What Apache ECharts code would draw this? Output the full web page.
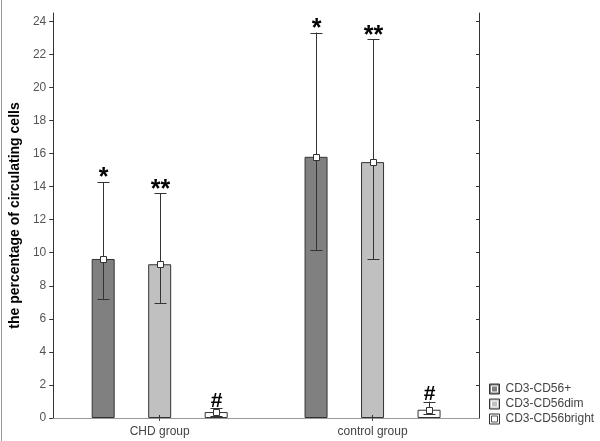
<!DOCTYPE html>
<html>
<head>
<meta charset="utf-8">
<script src="https://cdn.jsdelivr.net/npm/echarts@6/dist/echarts.min.js"></script>
<style>html,body{margin:0;padding:0;background:#fff;}#c{width:600px;height:441px;}</style>
</head>
<body>
<div id="c"></div>
<script>
const categories = ['CHD group', 'control group'];
const seriesNames = ['CD3-CD56+', 'CD3-CD56dim', 'CD3-CD56bright'];
const meanPlus = [9.62, 15.8];
const meanDim = [9.3, 15.48];
const meanBright = [0.36, 0.5];
const upperPlus = [14.27, 23.32];
const lowerPlus = [7.19, 10.17];
const upperDim = [13.6, 22.9];
const lowerDim = [6.96, 9.61];
const upperBright = [0.59, 0.99];
const lowerBright = [0.12, 0.22];
const marksPlus = ['*', '*'];
const marksDim = ['**', '**'];
const marksBright = ['#', '#'];
const yTicks = [0, 2, 4, 6, 8, 10, 12, 14, 16, 18, 20, 22, 24];

const means = [meanPlus, meanDim, meanBright];
const uppers = [upperPlus, upperDim, upperBright];
const lowers = [lowerPlus, lowerDim, lowerBright];
const marks = [marksPlus, marksDim, marksBright];
const colors = ['#808080', '#c0c0c0', '#ffffff'];

const BAR_W = 23;
const BAR_STEP = 56.5;
const FONT = '"Liberation Sans", Arial, sans-serif';

const barSeries = seriesNames.map((name, k) => ({
  name: name,
  type: 'bar',
  data: means[k],
  barWidth: BAR_W,
  barGap: ((BAR_STEP - BAR_W) / BAR_W * 100) + '%',
  itemStyle: { color: colors[k], borderColor: '#333', borderWidth: 1 },
  z: 2
}));

const errSeries = seriesNames.map((name, k) => ({
  name: name,
  type: 'custom',
  z: 5,
  data: categories.map((c, i) => [i, means[k][i], lowers[k][i], uppers[k][i]]),
  renderItem: function (params, api) {
    const i = api.value(0);
    const off = (k - 1) * BAR_STEP;
    const pm = api.coord([i, api.value(1)]);
    const pl = api.coord([i, api.value(2)]);
    const ph = api.coord([i, api.value(3)]);
    const x = Math.round(pm[0] + off) + 0.5;
    const cap = 6;
    const mk = marks[k][i];
    const isHash = mk === '#';
    const dy = isHash ? 3 : 9;
    const font = isHash ? 'bold 21px ' + FONT : 'bold 25px ' + FONT;
    const ls = { stroke: '#333', lineWidth: 1 };
    return {
      type: 'group',
      children: [
        { type: 'line', shape: { x1: x, y1: pl[1], x2: x, y2: ph[1] }, style: ls },
        { type: 'line', shape: { x1: x - cap, y1: Math.round(ph[1]) + 0.5, x2: x + cap, y2: Math.round(ph[1]) + 0.5 }, style: ls },
        { type: 'line', shape: { x1: x - cap, y1: Math.round(pl[1]) + 0.5, x2: x + cap, y2: Math.round(pl[1]) + 0.5 }, style: ls },
        { type: 'rect', shape: { x: x - 3, y: Math.round(pm[1]) - 2.5, width: 6, height: 6 }, style: { fill: '#fff', stroke: '#333', lineWidth: 1 } },
        { type: 'text', x: x, y: ph[1] + dy, style: { text: mk, textAlign: 'center', textVerticalAlign: 'bottom', font: font, fill: '#000' } }
      ]
    };
  }
}));

const chart = echarts.init(document.getElementById('c'), null, { renderer: 'canvas' });
chart.setOption({
  animation: false,
  backgroundColor: '#fff',
  grid: { left: 53, right: 121, top: 13, bottom: 23, containLabel: false },
  legend: [
    {
      orient: 'vertical', left: 484, top: 378, itemWidth: 10, itemHeight: 10, itemGap: 3,
      icon: 'rect', selectedMode: false,
      data: seriesNames.map((n, k) => ({ name: n, itemStyle: { color: colors[k], borderColor: '#333', borderWidth: 1 } })),
      textStyle: { fontFamily: FONT, fontSize: 12, color: '#444', padding: [0, 0, 0, 1] }
    },
    {
      orient: 'vertical', left: 486, top: 378, itemWidth: 6, itemHeight: 6, itemGap: 3,
      icon: 'rect', selectedMode: false, z: 5,
      data: seriesNames.map((n, k) => ({ name: n, itemStyle: { color: colors[k], borderColor: k === 2 ? '#555' : '#fff', borderWidth: 1 } })),
      textStyle: { fontFamily: FONT, fontSize: 12, color: 'rgba(0,0,0,0)' }
    }
  ],
  xAxis: [
    {
      type: 'category', data: categories, position: 'bottom', z: 6,
      axisLine: { lineStyle: { color: '#333' } },
      axisTick: { show: true, inside: true, length: 3, alignWithLabel: true, lineStyle: { color: '#333' } },
      axisLabel: { fontFamily: FONT, fontSize: 12, color: '#444', margin: 8 }
    },
    {
      type: 'category', data: categories, position: 'top', z: 6,
      axisLine: { lineStyle: { color: '#999' } },
      axisTick: { show: true, inside: true, length: 3, alignWithLabel: true, lineStyle: { color: '#555' } },
      axisLabel: { show: false }
    }
  ],
  yAxis: [
    {
      type: 'value', min: 0, max: 24.5, interval: 2, position: 'left',
      name: 'the percentage of circulating cells', nameLocation: 'middle', nameGap: 28,
      nameTextStyle: { fontFamily: FONT, fontSize: 14, fontWeight: 'bold', color: '#000' },
      axisLine: { show: true, lineStyle: { color: '#333' } },
      axisTick: { show: true, length: 4, customValues: yTicks, lineStyle: { color: '#333' } },
      axisLabel: { fontFamily: FONT, fontSize: 12, color: '#555', margin: 7, customValues: yTicks },
      splitLine: { show: false }
    },
    {
      type: 'value', min: 0, max: 24.5, interval: 2, position: 'right',
      axisLine: { show: true, lineStyle: { color: '#333' } },
      axisTick: { show: true, inside: true, length: 3, customValues: yTicks, lineStyle: { color: '#333' } },
      axisLabel: { show: false },
      splitLine: { show: false }
    }
  ],
  graphic: [
    { type: 'line', shape: { x1: 1.5, y1: 0, x2: 1.5, y2: 441 }, style: { stroke: '#999', lineWidth: 1 } }
  ],
  series: barSeries.concat(errSeries)
});
</script>
</body>
</html>
